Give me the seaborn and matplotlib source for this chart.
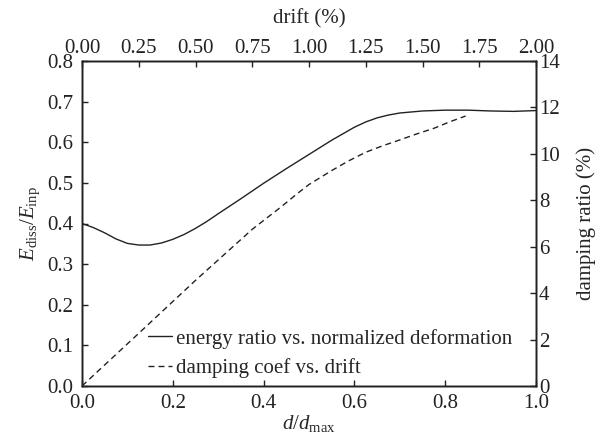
import matplotlib
matplotlib.use("Agg")
import matplotlib.pyplot as plt
import seaborn as sns
import pandas as pd

# Energy ratio vs normalized deformation (bottom / left axes)
d_norm = [0.0, 0.025, 0.05, 0.075, 0.10, 0.125, 0.15, 0.175, 0.20, 0.225,
          0.25, 0.275, 0.30, 0.35, 0.40, 0.45, 0.50, 0.55, 0.60, 0.625, 0.65,
          0.675, 0.70, 0.75, 0.80, 0.85, 0.90, 0.95, 1.00]
energy_ratio = [0.400, 0.390, 0.377, 0.362, 0.351, 0.347, 0.347, 0.352, 0.361,
                0.373, 0.388, 0.405, 0.424, 0.461, 0.499, 0.535, 0.570, 0.605,
                0.637, 0.650, 0.660, 0.667, 0.672, 0.677, 0.679, 0.679, 0.677,
                0.676, 0.678]

# Damping coefficient vs drift (top / right axes)
drift = [0.0, 0.25, 0.50, 0.75, 0.875, 0.95, 1.00, 1.10, 1.175, 1.25, 1.325,
         1.40, 1.475, 1.55, 1.62, 1.69]
damping = [0.0, 2.27, 4.55, 6.75, 7.70, 8.30, 8.68, 9.28, 9.70, 10.07, 10.35,
           10.60, 10.86, 11.10, 11.38, 11.63]

bottom_ticks = [0.0, 0.2, 0.4, 0.6, 0.8, 1.0]
left_ticks = [0.0, 0.1, 0.2, 0.3, 0.4, 0.5, 0.6, 0.7, 0.8]
top_ticks = [0.00, 0.25, 0.50, 0.75, 1.00, 1.25, 1.50, 1.75, 2.00]
right_ticks = [0, 2, 4, 6, 8, 10, 12, 14]

sns.set_theme(style="ticks")
plt.rcParams["font.family"] = ["Liberation Serif", "DejaVu Serif"]
plt.rcParams["mathtext.fontset"] = "custom"
plt.rcParams["mathtext.rm"] = "Liberation Serif"
plt.rcParams["mathtext.it"] = "Liberation Serif:italic"
plt.rcParams["mathtext.bf"] = "Liberation Serif:bold"

fs = 15
ink = "#222222"
fig = plt.figure(figsize=(6.01, 4.43), dpi=100)
ax = fig.add_axes([82 / 601, 1 - 386 / 443, (536 - 82) / 601, (386 - 61) / 443])
ax2 = ax.twinx()
ax3 = ax2.twiny()

df1 = pd.DataFrame({"x": d_norm, "y": energy_ratio})
df2 = pd.DataFrame({"x": drift, "y": damping})

sns.lineplot(data=df1, x="x", y="y", ax=ax, color=ink, lw=1.0,
             label="energy ratio vs. normalized deformation", legend=False)
sns.lineplot(data=df2, x="x", y="y", ax=ax3, color=ink, lw=1.0,
             label="damping coef vs. drift", legend=False)
ax3.lines[0].set_dashes((4.3, 2.9))

ax.set_xlim(0, 1.0)
ax.set_ylim(0, 0.8)
ax3.set_xlim(0, 2.0)
ax2.set_ylim(0, 14)
ax3.set_ylim(0, 14)

ax.set_xticks(bottom_ticks)
ax.set_xticklabels([f"{t:.1f}" for t in bottom_ticks])
ax.set_yticks(left_ticks)
ax.set_yticklabels([f"{t:.1f}" for t in left_ticks])
ax3.set_xticks(top_ticks)
ax3.set_xticklabels([f"{t:.2f}" for t in top_ticks])
ax2.set_yticks(right_ticks)
ax2.set_yticklabels([str(t) for t in right_ticks])

for a in (ax, ax2, ax3):
    a.tick_params(direction="in", length=4, width=1, labelsize=fs, colors=ink)
    for s in a.spines.values():
        s.set_color(ink)
        s.set_linewidth(1.0)
ax3.tick_params(axis="x", which="both", top=True, labeltop=True,
                bottom=False, labelbottom=False, pad=2)
ax.tick_params(axis="y", pad=6)
ax.tick_params(axis="x", pad=6)
ax2.tick_params(axis="y", pad=2)

ax.set_xlabel(r"$d/d_{\mathrm{max}}$", fontsize=fs, labelpad=0)
ax.set_ylabel(r"$E_{\mathrm{diss}}/E_{\mathrm{inp}}$", fontsize=fs, labelpad=4)
ax3.set_xlabel("drift (%)", fontsize=fs, labelpad=11)
ax2.set_ylabel("damping ratio (%)", fontsize=fs, labelpad=12)

h1, l1 = ax.get_legend_handles_labels()
h3, l3 = ax3.get_legend_handles_labels()
ax.legend(h1 + h3, l1 + l3, loc="lower left", bbox_to_anchor=(0.145, 0.025),
          frameon=False, fontsize=fs, handlelength=1.15, handletextpad=0.2,
          labelspacing=0.45, borderpad=0, borderaxespad=0)

fig.savefig("out.png", dpi=100)
